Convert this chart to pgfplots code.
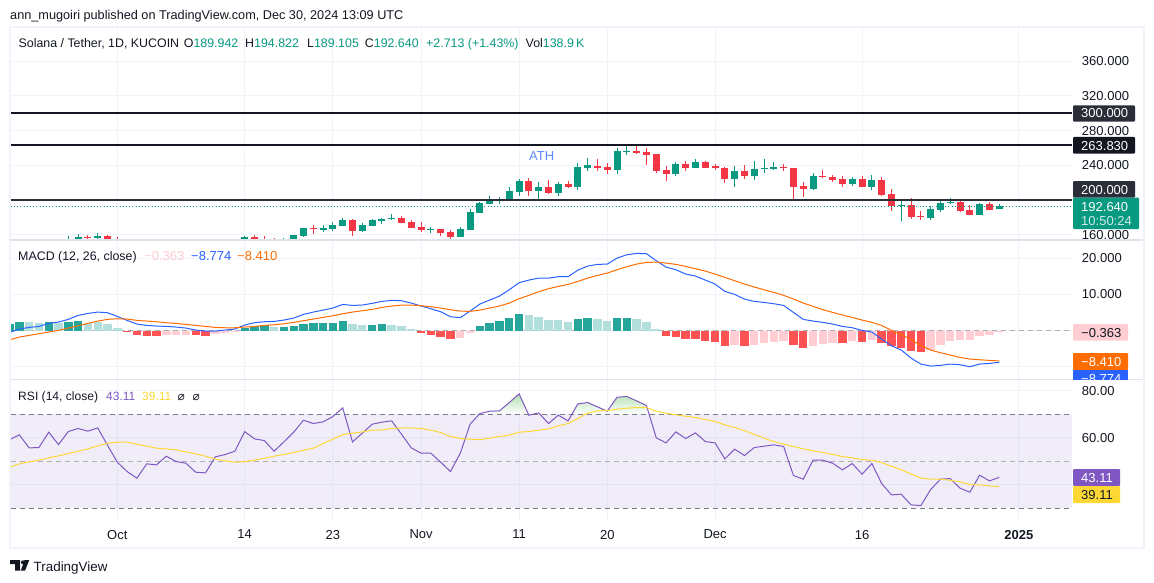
\documentclass[border=0pt]{standalone}
\usepackage{fontspec}
\setmainfont{Liberation Sans}
\newfontfamily\djv{DejaVu Sans}
\usepackage{pgfplots}
\usepackage{pgfplotstable}
\pgfplotsset{compat=1.18}

\definecolor{upc}{HTML}{089981}
\definecolor{dnc}{HTML}{F23645}
\definecolor{ink}{HTML}{131722}
\definecolor{slate}{HTML}{2A2E39}
\definecolor{gridc}{HTML}{F0F3FA}
\definecolor{sepc}{HTML}{E0E3EB}
\definecolor{hdark}{HTML}{26A69A}
\definecolor{hlight}{HTML}{B2DFDB}
\definecolor{hred}{HTML}{FF5252}
\definecolor{hpink}{HTML}{FFCDD2}
\definecolor{macdb}{HTML}{2962FF}
\definecolor{macdo}{HTML}{FF6D00}
\definecolor{rsip}{HTML}{7E57C2}
\definecolor{rsiy}{HTML}{FDD835}
\definecolor{midg}{HTML}{787B86}

\newcommand{\tvf}{\fontsize{13}{15}\selectfont}
\newcommand{\sz}[1]{\fontsize{#1}{15}\selectfont}

% candles: day (0 = 1 Oct), open, high, low, close
\pgfplotstableread{
d o h l c
-5 150.0 158.5 148.0 152.0
-4 150.0 160.8 148.0 157.3
-2 156.2 161.9 150.0 158.5
13 150.0 158.5 148.0 157.3
17 150.0 156.2 148.0 152.0
18 150.0 159.6 149.0 159.6
19 158.5 167.7 157.3 167.7
21 165.4 171.2 163.1 167.7
22 166.5 174.6 164.2 171.2
23 170.0 179.2 170.0 176.9
25 164.2 173.5 163.1 171.2
26 170.0 178.1 170.0 176.9
27 175.8 179.2 172.3 178.1
28 178.1 183.8 176.9 179.2
32 165.4 168.8 161.9 166.5
35 157.3 168.8 157.3 166.5
36 165.4 189.6 165.4 186.2
37 185.0 197.7 185.0 196.5
38 195.4 204.6 195.4 200.0
39 200.0 203.5 195.4 201.2
40 198.8 215.0 198.8 210.4
41 209.2 224.2 204.6 221.9
43 210.4 220.8 201.2 215.0
45 208.1 220.8 204.6 218.5
47 215.0 242.7 211.5 238.1
48 236.9 248.5 233.5 240.4
51 234.6 260.0 230.0 256.5
52 255.4 264.6 251.9 256.5
57 230.0 243.8 227.7 241.5
59 236.9 247.3 236.9 243.8
63 224.2 239.2 215.0 233.5
65 227.7 245.0 223.1 235.8
66 235.8 247.3 231.2 236.9
67 235.8 243.8 234.6 238.1
71 212.7 231.2 211.5 227.7
75 218.5 226.5 216.2 224.2
77 215.0 228.8 211.5 223.1
80 192.7 200.0 175.8 193.9
83 179.2 193.1 176.9 189.6
84 188.5 200.0 186.2 196.5
85 196.5 202.3 195.4 197.7
88 182.7 196.5 182.7 195.4
90 189.942 194.822 189.105 192.640
}\upcandles
\pgfplotstableread{
d o h l c
-3 157.3 159.6 150.0 156.5
-1 158.5 159.6 149.0 150.0
0 152.0 157.3 148.0 150.0
14 157.3 159.6 149.0 150.0
15 152.0 158.5 149.0 150.0
16 152.0 156.2 149.0 150.0
20 167.7 171.2 160.8 166.5
24 176.9 178.1 158.5 164.2
29 179.2 181.5 173.5 173.5
30 174.6 176.9 167.7 167.7
31 168.8 174.6 163.1 165.4
33 166.5 166.5 158.5 161.9
34 163.1 165.4 155.0 157.3
42 221.9 225.4 204.6 210.4
44 215.0 223.1 206.9 208.1
46 218.5 221.9 213.8 215.0
49 239.2 247.3 233.5 236.9
50 238.1 242.7 230.0 234.6
53 256.5 263.5 253.1 254.2
54 255.4 260.0 240.4 251.9
55 253.1 253.1 231.2 233.5
56 234.6 239.2 221.9 230.0
58 241.5 245.0 233.5 236.9
60 243.8 245.0 236.9 236.9
61 239.2 241.5 234.6 236.9
62 236.9 238.1 219.6 224.2
64 233.5 240.4 224.2 227.7
68 238.1 241.5 233.5 236.9
69 236.9 236.9 201.2 215.0
70 216.2 220.8 203.5 212.7
72 227.7 234.6 225.4 226.5
73 226.5 228.8 220.8 223.1
74 224.2 227.7 215.0 218.5
76 224.2 227.7 215.0 215.0
78 223.1 226.5 204.6 205.8
79 206.9 212.7 187.3 193.1
81 194.2 202.3 178.1 180.4
82 181.5 187.3 176.9 180.4
86 197.7 200.0 186.2 187.3
87 188.5 194.2 182.7 182.7
89 195.4 197.7 188.5 188.5
}\dncandles

% MACD histogram, one table per colour
\pgfplotstableread{
d v
-11 1.84
-10 2.39
-7 2.39
-5 2.39
-4 2.67
13 0.74
14 1.29
15 1.57
17 1.01
18 1.29
19 1.84
20 2.12
21 2.12
22 2.12
23 2.67
26 1.57
27 1.84
37 1.29
38 2.12
39 2.67
40 3.50
41 4.60
47 3.22
48 3.50
51 3.50
52 3.50
}\hdarktab
\pgfplotstableread{
d v
-9 2.39
-8 2.12
-6 2.12
-3 2.21
-2 2.39
-1 1.84
0 0.74
16 1.10
24 1.84
25 1.57
28 1.57
29 1.29
30 0.46
42 4.33
43 3.78
44 2.95
45 2.95
46 2.39
49 3.22
50 2.67
53 3.22
54 2.39
55 0.46
}\hlighttab
\pgfplotstableread{
d v
1 -0.37
2 -1.20
3 -1.47
4 -1.47
8 -1.20
9 -1.47
31 -0.64
32 -1.20
33 -1.75
34 -2.30
56 -1.47
57 -1.75
58 -2.30
59 -2.30
60 -2.85
61 -3.13
62 -4.24
64 -4.24
69 -3.96
70 -4.79
74 -3.41
76 -3.13
78 -3.41
79 -4.24
80 -4.79
81 -5.62
82 -5.89
}\hredtab
\pgfplotstableread{
d v
5 -1.20
6 -1.20
7 -1.20
10 -0.92
11 -0.64
12 -0.37
35 -2.03
36 -0.64
63 -3.96
65 -3.96
66 -3.41
67 -3.13
68 -2.85
71 -4.24
72 -3.68
73 -3.41
75 -2.85
77 -2.58
83 -5.34
84 -3.96
85 -2.85
86 -2.58
87 -2.58
88 -1.47
89 -1.20
90 -0.363
}\hpinktab

% day, MACD, signal, RSI, RSI average
\pgfplotstableread{
d m s r a
-10.88 -0.43 -2.46 59.36 47.59
-10 0.40 -1.81 61.21 48.87
-9 0.86 -1.35 55.67 49.72
-8 1.13 -0.89 55.82 50.43
-7 1.96 -0.43 62.34 51.42
-6 2.33 0.03 57.09 52.27
-5 3.07 0.67 62.62 53.26
-4 4.17 1.32 63.90 54.26
-3 4.72 1.96 62.77 55.25
-2 5.09 2.61 64.18 56.52
-1 4.91 3.07 56.81 57.66
0 3.90 3.25 49.57 58.09
1 2.79 3.16 45.60 58.09
2 1.78 2.79 42.77 57.23
3 1.41 2.61 48.87 56.38
4 1.22 2.42 48.44 55.53
5 1.13 2.15 52.13 55.25
6 0.95 1.96 49.86 54.82
7 0.67 1.69 49.15 53.97
8 0.12 1.41 45.32 53.12
9 -0.16 1.13 45.04 52.13
10 -0.16 0.86 51.84 50.99
11 0.12 0.76 52.84 50.14
12 0.40 0.76 54.26 49.57
13 1.50 0.95 62.62 49.86
14 2.15 1.13 59.50 50.43
15 2.42 1.41 58.79 51.28
16 2.51 1.59 54.26 52.13
17 2.88 1.87 58.23 52.84
18 3.43 2.24 62.34 53.69
19 4.45 2.70 67.45 54.68
20 5.09 3.16 66.03 55.53
21 5.64 3.62 66.74 57.52
22 6.20 4.08 69.01 59.36
23 7.21 4.63 72.70 61.35
24 6.93 5.09 58.23 61.91
25 7.03 5.46 61.91 62.48
26 7.49 5.83 65.74 63.19
27 8.04 6.38 66.60 63.33
28 8.31 6.75 67.16 63.90
29 8.22 7.03 61.49 64.18
30 7.58 7.03 55.67 64.18
31 6.75 6.84 53.40 63.90
32 6.01 6.57 53.40 63.19
33 5.18 6.20 49.57 62.20
34 3.80 5.74 45.60 60.50
35 3.53 5.37 53.40 59.65
36 5.37 5.28 65.74 59.36
37 7.30 5.64 70.28 59.22
38 8.41 6.20 71.28 59.79
39 9.51 6.75 71.42 60.50
40 11.26 7.58 74.96 61.06
41 13.20 8.78 78.65 62.34
42 13.93 9.70 69.57 62.62
43 14.48 10.71 70.57 63.19
44 14.48 11.54 66.03 63.76
45 14.85 12.18 69.57 65.04
46 14.85 12.74 67.16 66.03
47 16.69 13.56 74.40 68.16
48 17.80 14.48 74.96 70.43
49 18.26 15.22 73.12 71.42
50 18.35 15.87 71.28 71.56
51 20.01 16.79 77.23 72.13
52 20.93 17.62 77.52 72.55
53 21.30 18.35 75.67 72.84
54 21.21 18.81 73.69 72.84
55 19.27 18.90 59.93 71.28
56 17.52 18.63 57.80 70.43
57 16.79 18.26 62.48 69.72
58 15.59 17.71 59.65 69.15
59 15.04 17.06 62.06 68.58
60 13.93 16.42 58.37 67.73
61 12.83 15.59 57.80 66.88
62 10.80 14.67 50.99 65.46
63 9.97 13.75 55.11 64.33
64 8.68 12.83 52.41 63.05
65 8.04 12.00 55.82 61.35
66 7.76 11.26 56.38 59.79
67 7.39 10.53 56.95 58.37
68 6.93 9.70 56.24 57.23
69 5.00 8.68 43.90 56.24
70 3.07 7.58 42.34 55.25
71 2.61 6.66 50.43 54.40
72 2.24 5.74 50.43 53.69
73 1.78 5.00 49.15 52.84
74 1.13 4.26 46.31 51.99
75 0.76 3.62 49.01 51.42
76 0.03 2.88 44.47 50.71
77 -0.43 2.24 49.01 50.43
78 -2.37 1.41 40.50 49.43
79 -4.21 0.03 35.67 47.87
80 -5.41 -1.17 35.96 46.31
81 -7.62 -2.55 31.42 44.61
82 -9.27 -4.12 31.13 42.77
83 -9.83 -5.41 37.94 42.34
84 -9.64 -6.14 42.34 42.34
85 -9.27 -6.79 42.62 41.91
86 -9.46 -7.44 38.51 41.21
87 -10.01 -7.89 36.81 40.07
88 -9.27 -8.08 44.04 39.93
89 -9.09 -8.26 41.63 39.50
90 -8.774 -8.410 43.11 39.11
}\osc

\pgfplotsset{
  tv/.style={
    scale only axis, width=1061.3pt, anchor=north west,
    xmin=-10.88, xmax=97.42,
    axis line style={draw=none},
    tick style={draw=none}, major tick length=0pt,
    grid=major, grid style={draw=gridc, line width=1pt},
    xtick={0,13,22,31,41,50,61,76,92},
    xticklabels={},
    yticklabel pos=right,
    y tick label style={anchor=west, xshift=6.5pt, font=\tvf, text=ink},
    clip=true,
  },
  candle/.style={draw=none, mark=none, forget plot,
    error bars/.cd, y dir=plus, y explicit, error mark=none,
    error bar style={draw=#1, line width=1pt}},
  body/.style={draw=none, mark=none, forget plot,
    error bars/.cd, y dir=plus, y explicit, error mark=none,
    error bar style={draw=#1, line width=7pt}},
  hbar/.style={ycomb, mark=none, forget plot, draw=#1, line width=8.4pt},
}

\begin{document}
\begin{tikzpicture}[x=1pt,y=-1pt]
\path[use as bounding box, fill=white] (0,0) rectangle (1154,583);

% price pane
\begin{axis}[tv, at={(10.7pt,-27pt)}, height=213pt,
  ymin=153.85, ymax=399.6,
  ytick={160,200,240,280,320,360},
  yticklabels={160.000,,240.000,280.000,320.000,360.000}]
\addplot[candle=upc] table[x=d,y=l,y error plus expr=\thisrow{h}-\thisrow{l}] {\upcandles};
\addplot[candle=dnc] table[x=d,y=l,y error plus expr=\thisrow{h}-\thisrow{l}] {\dncandles};
\addplot[body=upc] table[x=d,y=o,y error plus expr=\thisrow{c}-\thisrow{o}] {\upcandles};
\addplot[body=dnc] table[x=d,y=c,y error plus expr=\thisrow{o}-\thisrow{c}] {\dncandles};
\addplot[ink, line width=2pt, forget plot] coordinates {(-10.88,263.83) (97.42,263.83)};
\addplot[ink, line width=2pt, forget plot] coordinates {(-10.88,300) (97.42,300)};
\addplot[slate, line width=2pt, forget plot] coordinates {(-10.88,200) (97.42,200)};
\addplot[upc, line width=1pt, dash pattern=on 1pt off 2.2pt, forget plot] coordinates {(-10.88,192.64) (97.42,192.64)};
\end{axis}

% MACD pane
\begin{axis}[tv, at={(10.7pt,-240pt)}, height=139.3pt,
  ymin=-13.48, ymax=25,
  ytick={-10,0,10,20}, yticklabels={,,10.000,20.000}]
\addplot[midg!60, line width=1pt, dash pattern=on 5pt off 4pt, forget plot] coordinates {(-10.88,0) (97.42,0)};
\addplot[hbar=hdark] table[x=d,y=v] {\hdarktab};
\addplot[hbar=hlight] table[x=d,y=v] {\hlighttab};
\addplot[hbar=hred] table[x=d,y=v] {\hredtab};
\addplot[hbar=hpink] table[x=d,y=v] {\hpinktab};
\addplot[macdb, line width=1pt, forget plot] table[x=d,y=m] {\osc};
\addplot[macdo, line width=1pt, forget plot] table[x=d,y=s] {\osc};
\end{axis}

% RSI pane
\begin{axis}[tv, at={(10.7pt,-379.3pt)}, height=140.7pt,
  ymin=24.98, ymax=84.85,
  ytick={40,60,80}, yticklabels={,60.00,80.00},
  xticklabels={Oct,14,23,Nov,11,20,Dec,16,\textbf{2025}},
  x tick label style={font=\tvf, text=ink, yshift=-6.5pt}]
\addplot[fill=rsip, fill opacity=.1, draw=none, forget plot] coordinates {(-10.88,30) (97.42,30) (97.42,70) (-10.88,70)};
\addplot[shade, top color=green!60!black!12, bottom color=white, draw=none, forget plot] coordinates {(22.27,70) (23,72.70) (23.27,70)};
\addplot[shade, top color=green!60!black!30, bottom color=white, draw=none, forget plot] coordinates {(36.95,70) (37,70.28) (38,71.28) (39,71.42) (40,74.96) (41,78.65) (41.95,70)};
\addplot[shade, top color=green!60!black!25, bottom color=white, draw=none, forget plot] coordinates {(46.4,70) (47,74.40) (48,74.96) (49,73.12) (50,71.28) (51,77.23) (52,77.52) (53,75.67) (54,73.69) (54.27,70)};
\addplot[midg, line width=1pt, dash pattern=on 5pt off 4pt, forget plot] coordinates {(-10.88,70) (97.42,70)};
\addplot[midg!60, line width=1pt, dash pattern=on 5pt off 4pt, forget plot] coordinates {(-10.88,50) (97.42,50)};
\addplot[midg, line width=1pt, dash pattern=on 5pt off 4pt, forget plot] coordinates {(-10.88,30) (97.42,30)};
\addplot[rsip, line width=1pt, forget plot] table[x=d,y=r] {\osc};
\addplot[rsiy, line width=1pt, forget plot] table[x=d,y=a] {\osc};
\end{axis}

% frame and pane separators
\draw[gridc, line width=2pt] (9.5,27) rectangle (1143.5,548);
\draw[sepc, line width=1.2pt] (10,240) -- (1143,240);
\draw[sepc, line width=1.2pt] (10,379.5) -- (1143,379.5);

\tikzset{lab/.style={anchor=base west, inner sep=0pt, font=\tvf}}

% price badges
\fill[rounded corners=1pt, slate] (1073,105.3) rectangle (1135,121.7);
\node[lab, text=white] at (1081,118) {300.000};
\fill[rounded corners=1pt, ink] (1073,137) rectangle (1135,153.7);
\node[lab, text=white] at (1081,150) {263.830};
\fill[rounded corners=1pt, slate] (1073,181) rectangle (1135,197.7);
\node[lab, text=white] at (1081,194) {200.000};
\fill[rounded corners=1pt, upc] (1073,197.7) rectangle (1139,229);
\node[lab, text=white] at (1081,211) {192.640};
\node[lab, text=white!80!upc] at (1081,225) {10:50:24};

% MACD and RSI badges
\fill[rounded corners=1pt, hpink] (1073,324) rectangle (1128,340.7);
\node[lab, text=ink] at (1081,337) {−0.363};
\fill[rounded corners=1pt, macdo] (1073,353) rectangle (1128,370);
\node[lab, text=white] at (1081,366) {−8.410};
\begin{scope}
\clip (1070,370) rectangle (1140,379);
\fill[macdb] (1073,370) rectangle (1128,386);
\node[lab, text=white] at (1081,383) {−8.774};
\end{scope}
\fill[rounded corners=1pt, rsip] (1073,469) rectangle (1120,486);
\node[lab, text=white] at (1081,482) {43.11};
\fill[rounded corners=1pt, rsiy] (1073,486) rectangle (1120,503);
\node[lab, text=ink] at (1081,499) {39.11};

% header
\node[lab, text=ink, font=\sz{12.7}] at (10,20) {ann\_mugoiri published on TradingView.com, Dec 30, 2024 13:09 UTC};
\tikzset{hd/.style={lab, font=\sz{12.4}}}
\node[hd, text=ink] at (18.4,47.5) {Solana / Tether, 1D, KUCOIN};
\node[hd, text=ink] at (183.7,47.5) {O\textcolor{upc}{189.942}};
\node[hd, text=ink] at (245,47.5) {H\textcolor{upc}{194.822}};
\node[hd, text=ink] at (307,47.5) {L\textcolor{upc}{189.105}};
\node[hd, text=ink] at (364.7,47.5) {C\textcolor{upc}{192.640}};
\node[hd, text=upc] at (426,47.5) {+2.713 (+1.43\%)};
\node[hd, text=ink] at (525.5,47.5) {Vol\textcolor{upc}{138.9\,K}};
\node[lab, text=macdb!75] at (529,160.5) {ATH};

% indicator legends
\node[lab, text=ink, font=\sz{12.4}] at (18,260) {MACD (12, 26, close)};
\node[lab, text=hpink] at (144,260) {−0.363};
\node[lab, text=macdb] at (191,260) {−8.774};
\node[lab, text=macdo] at (237,260) {−8.410};
\node[lab, text=ink, font=\sz{12.1}] at (18,400.5) {RSI (14, close)};
\node[lab, text=rsip, font=\sz{12}] at (106,400.5) {43.11};
\node[lab, text=rsiy, font=\sz{12}] at (142,400.5) {39.11};
\node[lab, text=ink] at (177.5,400.5) {\djv\fontsize{12}{14}\selectfont ⌀};
\node[lab, text=ink] at (192.5,400.5) {\djv\fontsize{12}{14}\selectfont ⌀};

% footer logo
\fill[ink] (10,560) -- (20,560) -- (20,570.7) -- (15,570.7) -- (15,564) -- (10,564) -- cycle;
\fill[ink] (23,562.3) circle (2pt);
\fill[ink] (24.5,560) -- (29.3,560) -- (25,570.7) -- (20.8,570.7) -- cycle;
\node[lab, text=ink, font=\sz{13.4}] at (33.5,571) {TradingView};
\end{tikzpicture}
\end{document}
